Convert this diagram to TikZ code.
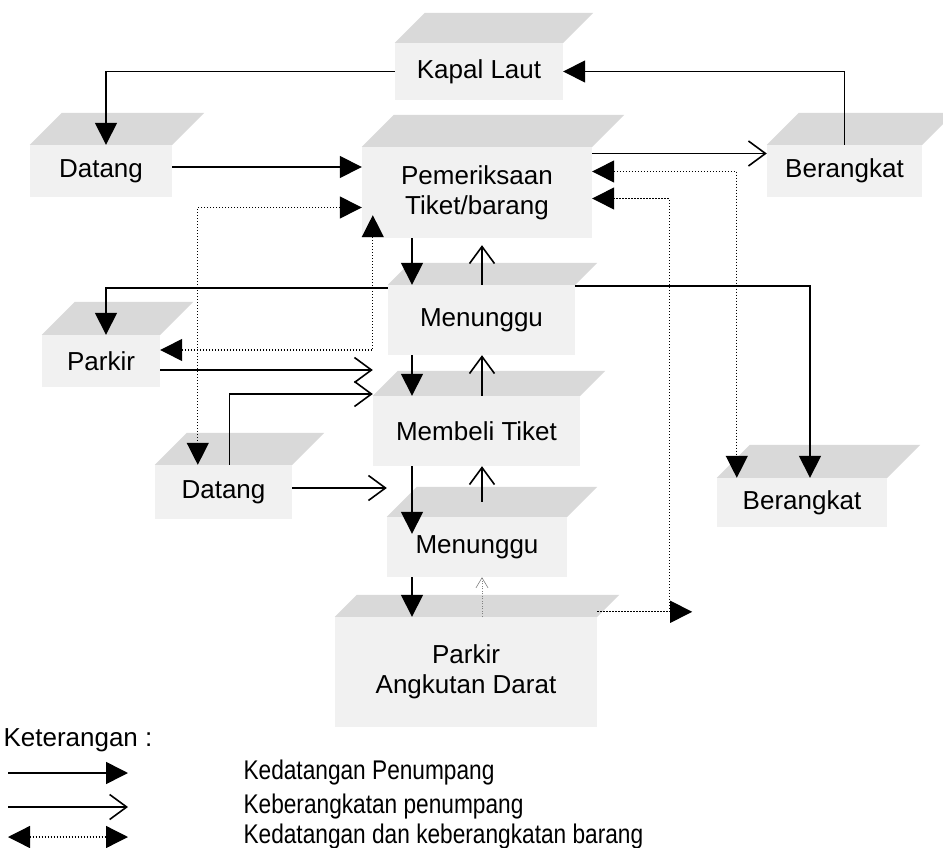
\documentclass[tikz,border=0pt]{standalone}
\usepackage{fontspec}
\setmainfont{Liberation Sans}
\newfontfamily\narrowfont[FakeStretch=0.84]{Liberation Sans}
\usetikzlibrary{arrows.meta,calc,positioning}

\begin{document}
\begin{tikzpicture}[
  x=1pt, y=-1pt,
  plate/.style={fill=gray!11, inner sep=0pt, align=center, font=\fontsize{26}{30}\selectfont},
  platetop/.style={fill=gray!30},
  arrive/.style={-{Triangle[length=22pt,width=22pt]}, line width=1.6pt},
  depart/.style={-{Straight Barb[length=17pt,width=25pt]}, line width=1.6pt},
  goods/.style={{Triangle[length=22pt,width=22pt]}-{Triangle[length=22pt,width=22pt]}, line width=1.3pt, dash pattern=on 1.3pt off 1.7pt},
  faint/.style={-{Straight Barb[length=10pt,width=12pt]}, line width=0.6pt, gray, dash pattern=on 1pt off 1.5pt},
  legend/.style={anchor=west, font=\narrowfont\fontsize{27}{31}\selectfont},
]
\useasboundingbox (0,0) rectangle (943,848);

% === Platforms ===
\node[plate, minimum width=168pt, minimum height=57pt] (kapal) at (479,71.5) {Kapal Laut};
\node[plate, minimum width=142pt, minimum height=52pt] (datangA) at (101,171) {Datang};
\node[plate, minimum width=230pt, minimum height=91pt] (periksa) at (477,192.5) {Pemeriksaan\\Tiket/barang};
\node[plate, minimum width=155pt, minimum height=52pt] (berangkatA) at (844.5,171) {Berangkat};
\node[plate, minimum width=187pt, minimum height=70pt] (tunggu1) at (481.5,320) {Menunggu};
\node[plate, minimum width=118pt, minimum height=52pt] (parkir) at (101,361) {Parkir};
\node[plate, minimum width=207pt, minimum height=70pt] (beli) at (476.5,431) {Membeli Tiket};
\node[plate, minimum width=137pt, minimum height=54pt] (datangB) at (223.5,492) {Datang};
\node[plate, minimum width=170pt, minimum height=49pt] (berangkatB) at (802,502.5) {Berangkat};
\node[plate, minimum width=180pt, minimum height=60pt] (tunggu2) at (477,547) {Menunggu};
\node[plate, minimum width=262pt, minimum height=110pt] (parkirAD) at (466,672) {Parkir\\Angkutan Darat};

% tops of the platforms
\foreach \n/\h in {kapal/30, datangA/32, periksa/32, berangkatA/32, tunggu1/22, parkir/33,
                   beli/25, datangB/32, berangkatB/33, tunggu2/30, parkirAD/22}
  \fill[platetop] (\n.north west) -- ++(\h,-\h) -- ($(\n.north east)+(\h,-\h)$) -- (\n.north east) -- cycle;

\coordinate (down) at (412,0);
\coordinate (up) at (482,0);

% === Kedatangan penumpang ===
\draw[arrive] (kapal.west) -| ([xshift=5pt]datangA.north);
\draw[arrive] (berangkatA.north) |- (kapal.east);
\draw[arrive] ([yshift=4pt]datangA.east) -- ([yshift=4pt]datangA.east -| periksa.west);
\draw[arrive] (periksa.south -| down) -- (tunggu1.north -| down);
\draw[arrive] (tunggu1.south -| down) -- (beli.north -| down);
\draw[arrive] (beli.south -| down) -- ([yshift=-17pt]tunggu2.north -| down);
\draw[arrive] (tunggu2.south -| down) -- (parkirAD.north -| down);
\draw[arrive] ([yshift=-3pt]tunggu1.north west) -| ([xshift=5pt]parkir.north);
\draw[arrive] ([yshift=-1pt]tunggu1.north east) -| ([xshift=8pt]berangkatB.north);

% === Keberangkatan penumpang ===
\draw[depart] ([yshift=39pt]periksa.east) -- ([yshift=39pt]periksa.east -| berangkatA.west);
\draw[depart] (tunggu1.north -| up) -- ([yshift=-7pt]periksa.south -| up);
\draw[depart] (beli.north -| up) -- (tunggu1.south -| up);
\draw[depart] ([yshift=15pt]tunggu2.north -| up) -- (beli.south -| up);
\draw[depart] ([yshift=-9pt]parkir.east) -- ([yshift=-9pt]parkir.east -| beli.west);
\draw[depart] ([xshift=6pt]datangB.north) |- ([yshift=37pt]beli.west);
\draw[depart] ([yshift=4pt]datangB.east) -- ([yshift=4pt]datangB.east -| tunggu2.west);
\draw[faint] (parkirAD.north -| up) -- (tunggu2.south -| up);

% === Barang ===
\draw[goods] ([yshift=21pt]periksa.east) -| ([xshift=20pt]berangkatB.north west);
\draw[goods, -{Triangle[length=22pt,width=22pt]}] ([shift={(0,-5)}]parkirAD.north east) -- ++(95,0);
\draw[goods, -{Triangle[length=22pt,width=22pt]}] ([shift={(72,-5)}]parkirAD.north east) |- ([yshift=-6pt]periksa.east);
\draw[goods] ([yshift=-15pt]periksa.west) -| ([xshift=43pt]datangB.north west);
\draw[goods] ([yshift=11pt]parkir.east) -| ([shift={(11,-23)}]periksa.south west);

% === Keterangan ===
\node[anchor=west, font=\fontsize{26}{30}\selectfont] (keterangan) at (0,740) {Keterangan :};
\node[legend] (lgarrive) at (240,773) {Kedatangan Penumpang};
\node[legend] (lgdepart) at (240,807) {Keberangkatan penumpang};
\node[legend] (lggoods) at (240,837) {Kedatangan dan keberangkatan barang};
\draw[arrive] ([xshift=-232pt]lgarrive.west) -- ([xshift=-112pt]lgarrive.west);
\draw[depart] ([xshift=-232pt]lgdepart.west) -- ([xshift=-112pt]lgdepart.west);
\draw[goods] ([xshift=-232pt]lggoods.west) -- ([xshift=-112pt]lggoods.west);

\end{tikzpicture}
\end{document}
